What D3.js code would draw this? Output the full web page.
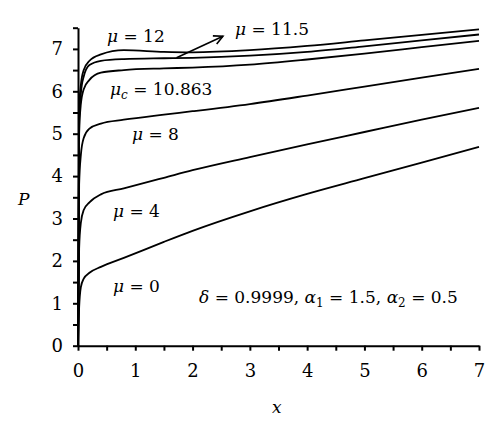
<!DOCTYPE html>
<html>
<head>
<meta charset="utf-8">
<script src="https://cdn.jsdelivr.net/npm/d3@7"></script>
<style>
  body { margin: 0; background: #fff; }
  svg { display: block; }
  .axis path, .axis line { stroke: #000; stroke-width: 2; }
  .axis text { font-family: 'DejaVu Serif', serif; font-size: 18px; fill: #000; }
  .curve { fill: none; stroke: #000; stroke-width: 1.8; }
  .lbl { font-family: 'DejaVu Serif', serif; font-size: 17px; fill: #000; }
</style>
</head>
<body>
<svg id="chart" width="500" height="435"></svg>
<script>
// sample points along x (shared by every curve)
const xs = [0, 0.02, 0.05, 0.1, 0.2, 0.4, 0.8, 1.5, 2, 3, 4, 5, 6, 7];

// P values, one array per mu
const p_mu0   = [0, 0.9, 1.38, 1.58, 1.72, 1.86, 2.07, 2.45, 2.71, 3.17, 3.58, 3.95, 4.32, 4.69];
const p_mu4   = [0, 2.3, 2.9, 3.2, 3.38, 3.57, 3.71, 3.96, 4.14, 4.45, 4.75, 5.04, 5.33, 5.61];
const p_mu8   = [0, 3.8, 4.5, 4.9, 5.12, 5.24, 5.33, 5.45, 5.53, 5.70, 5.90, 6.11, 6.32, 6.53];
const p_muc   = [0, 5.0, 5.7, 6.05, 6.27, 6.44, 6.50, 6.54, 6.56, 6.63, 6.75, 6.89, 7.04, 7.19];
const p_mu115 = [0, 5.3, 5.95, 6.35, 6.62, 6.72, 6.76, 6.78, 6.79, 6.84, 6.93, 7.06, 7.20, 7.34];
const p_mu12  = [0, 5.6, 6.15, 6.5, 6.72, 6.87, 6.97, 6.93, 6.92, 6.97, 7.07, 7.20, 7.33, 7.46];

const series = [p_mu0, p_mu4, p_mu8, p_muc, p_mu115, p_mu12];

const xTicks = d3.range(0, 7.01, 0.5);
const yTicks = d3.range(0, 7.51, 0.5);

// arrow pointing from the mu=11.5 curve to its label, in data units
const arrowFrom = [1.72, 6.79];
const arrowTo = [2.53, 7.30];

const svg = d3.select('#chart');

const x = d3.scaleLinear().domain([0, 7]).range([78, 479]);
const y = d3.scaleLinear().domain([0, 7.5]).range([345.7, 27.7]);

const line = d3.line()
    .x((d) => x(d[0]))
    .y((d) => y(d[1]))
    .curve(d3.curveMonotoneX);

svg.append('g')
    .selectAll('path')
    .data(series)
    .join('path')
    .attr('class', 'curve')
    .attr('d', (s) => line(xs.map((v, i) => [v, s[i]])));

// axes
svg.append('g')
    .attr('class', 'axis')
    .attr('transform', 'translate(0,' + y(0) + ')')
    .call(d3.axisBottom(x)
        .tickValues(xTicks)
        .tickSize(5)
        .tickSizeOuter(0)
        .tickPadding(14)
        .tickFormat((d) => (Number.isInteger(d) ? d : '')));

svg.append('g')
    .attr('class', 'axis')
    .attr('transform', 'translate(' + x(0) + ',0)')
    .call(d3.axisLeft(y)
        .tickValues(yTicks)
        .tickSize(5)
        .tickSizeOuter(0)
        .tickPadding(10)
        .tickFormat((d) => (Number.isInteger(d) ? d : '')));

// arrow
svg.append('defs').append('marker')
    .attr('id', 'head')
    .attr('viewBox', '-10 -6 12 12')
    .attr('refX', 0).attr('refY', 0)
    .attr('markerWidth', 12).attr('markerHeight', 12)
    .attr('markerUnits', 'userSpaceOnUse')
    .attr('orient', 'auto')
    .append('path')
    .attr('d', 'M-9,-4.5L0,0L-9,4.5')
    .attr('fill', 'none')
    .attr('stroke', '#000')
    .attr('stroke-width', 1.6);

svg.append('line')
    .attr('x1', x(arrowFrom[0])).attr('y1', y(arrowFrom[1]))
    .attr('x2', x(arrowTo[0])).attr('y2', y(arrowTo[1]))
    .attr('stroke', '#000')
    .attr('stroke-width', 1.6)
    .attr('marker-end', 'url(#head)');

// labels
function label(px, py, parts) {
    const t = svg.append('text').attr('class', 'lbl').attr('x', px).attr('y', py);
    parts.forEach((p) => {
        const s = t.append('tspan').text(p.t);
        if (p.i) s.attr('font-style', 'italic');
        if (p.sub) s.attr('font-size', '12px').attr('dy', 4);
        if (p.up) s.attr('dy', -4);
    });
    return t;
}

label(107, 42, [{ t: 'μ', i: 1 }, { t: ' = 12' }]);
label(235, 35, [{ t: 'μ', i: 1 }, { t: ' = 11.5' }]);
label(110, 95, [{ t: 'μ', i: 1 }, { t: 'c', i: 1, sub: 1 }, { t: ' = 10.863', up: 1 }]);
label(132, 140, [{ t: 'μ', i: 1 }, { t: ' = 8' }]);
label(113, 217, [{ t: 'μ', i: 1 }, { t: ' = 4' }]);
label(113, 292, [{ t: 'μ', i: 1 }, { t: ' = 0' }]);
label(199, 303, [
    { t: 'δ', i: 1 }, { t: ' = 0.9999, ' },
    { t: 'α', i: 1 }, { t: '1', sub: 1 }, { t: ' = 1.5, ', up: 1 },
    { t: 'α', i: 1 }, { t: '2', sub: 1 }, { t: ' = 0.5', up: 1 },
]);

svg.append('text').attr('class', 'lbl').attr('font-style', 'italic')
    .attr('font-size', '20px')
    .attr('x', 18).attr('y', 205).text('P');
svg.append('text').attr('class', 'lbl').attr('font-style', 'italic')
    .attr('font-size', '20px')
    .attr('x', 272).attr('y', 413).text('x');
</script>
</body>
</html>
